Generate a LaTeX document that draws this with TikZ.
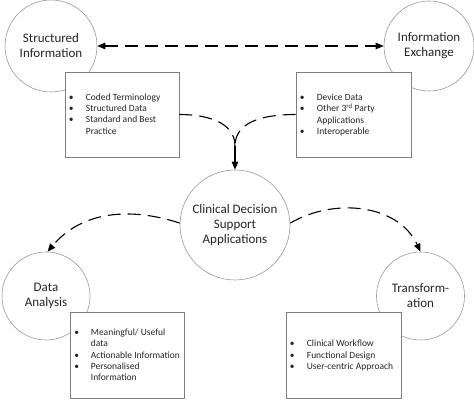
\documentclass[tikz,border=0pt]{standalone}
\usepackage{fontspec}
\setmainfont{Carlito}
\usetikzlibrary{arrows.meta,calc}
\begin{document}
\begin{tikzpicture}[x=1pt,y=1pt,
  >={Triangle[length=8pt,width=6.5pt]},
  circ/.style={circle,draw=black!40,line width=0.6pt,fill=white,align=center,
    font=\fontsize{13}{15}\selectfont,inner sep=0pt,text=black!85},
  boxn/.style={draw=black!50,line width=0.6pt,fill=white,inner sep=0pt},
  lst/.style={anchor=west,inner sep=0pt,font=\fontsize{9.5}{11.3}\selectfont,text=black!85},
  conn/.style={line width=1.1pt,dash pattern=on 13pt off 7pt}]
\useasboundingbox (0,0) rectangle (474,401);
% circles
\node[circ,minimum size=92pt] (si) at (51,355) {Structured\\Information};
\node[circ,minimum size=90pt] (ie) at (429,355) {Information\\Exchange};
\node[circ,minimum size=110pt] (cdsa) at (235,176) {Clinical Decision\\Support\\Applications};
\node[circ,minimum size=88pt] (da) at (46,105) {Data\\Analysis};
\node[circ,minimum size=88pt] (tr) at (420.5,105) {Transform-\\ation};
% boxes
\node[boxn,minimum width=114pt,minimum height=85pt] (b1) at (122,286.5) {};
\node[boxn,minimum width=115pt,minimum height=85pt] (b2) at (353.5,286.5) {};
\node[boxn,minimum width=114pt,minimum height=86pt] (b3) at (127,46) {};
\node[boxn,minimum width=115pt,minimum height=86pt] (b4) at (343.5,46) {};
% lists
\node[lst] (l1) at ($(b1.west)+(4,-0.5)$) {\begin{tabular}{@{}p{17pt}@{}l@{}}
\textbullet & Coded Terminology\\
\textbullet & Structured Data\\
\textbullet & Standard and Best\\
 & Practice
\end{tabular}};
\node[lst] (l2) at ($(b2.west)+(4,-0.5)$) {\begin{tabular}{@{}p{17pt}@{}l@{}}
\textbullet & Device Data\\
\textbullet & Other 3\textsuperscript{rd} Party\\
 & Applications\\
\textbullet & Interoperable
\end{tabular}};
\node[lst] (l3) at ($(b3.west)+(4.5,-1)$) {\begin{tabular}{@{}p{16.5pt}@{}l@{}}
\textbullet & Meaningful/ Useful\\
 & data\\
\textbullet & Actionable Information\\
\textbullet & Personalised\\
 & Information
\end{tabular}};
\node[lst] (l4) at ($(b4.west)+(4,-1)$) {\begin{tabular}{@{}p{17pt}@{}l@{}}
\textbullet & Clinical Workflow\\
\textbullet & Functional Design\\
\textbullet & User-centric Approach
\end{tabular}};
% connectors
\coordinate (m) at (235,255);
\draw[conn,<->] (si) -- (ie);
\draw[conn] (b1.east) to[out=0,in=90] (m);
\draw[conn] (b2.west) to[out=180,in=90] (m);
\draw[line width=1.1pt,->] (m) -- (cdsa.north);
\draw[conn,->] (cdsa.178) to[out=162,in=50] (da.88);
\draw[conn,->] (cdsa.2) to[out=30,in=115] (tr.north);
\end{tikzpicture}
\end{document}
